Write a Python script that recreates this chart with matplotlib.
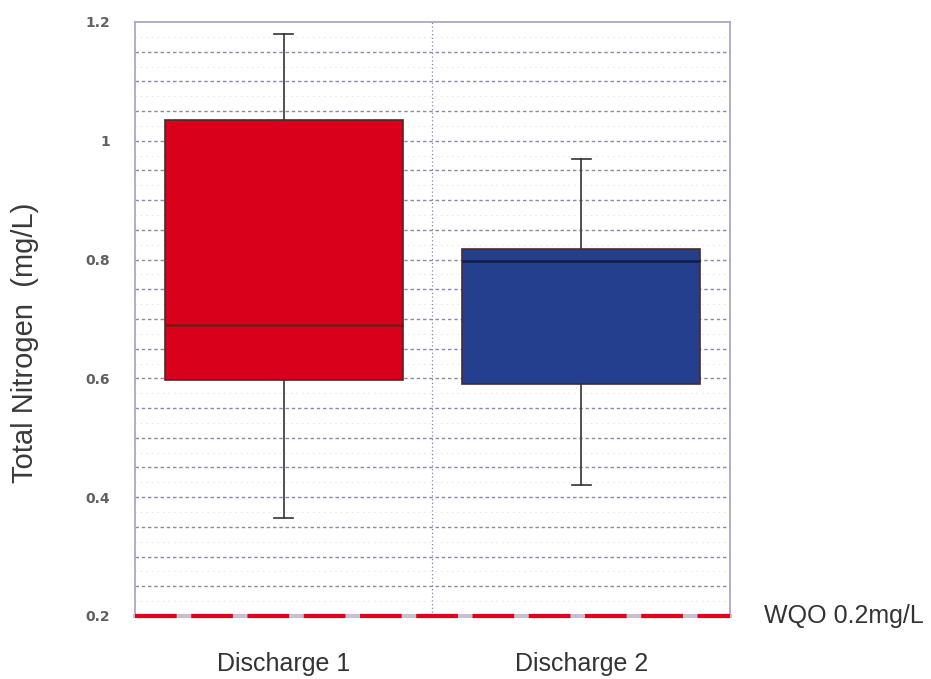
import matplotlib.pyplot as plt
import numpy as np

categories = ["Discharge 1", "Discharge 2"]
whisker_low = [0.365, 0.42]
q1 = [0.597, 0.59]
median = [0.69, 0.798]
q3 = [1.035, 0.818]
whisker_high = [1.18, 0.97]
box_colors = ["#d8001b", "#243f8e"]
median_colors = ["#7a1515", "#101c45"]
wqo = 0.2
y_ticks = [0.2, 0.4, 0.6, 0.8, 1.0, 1.2]
y_tick_labels = ["0.2", "0.4", "0.6", "0.8", "1", "1.2"]

label_font = {"family": ["Liberation Sans", "DejaVu Sans"]}

fig = plt.figure(figsize=(9.31, 6.79), dpi=100)
ax = fig.add_axes([0.145, 0.0928, 0.639, 0.8748])

stats = []
for i, name in enumerate(categories):
    stats.append({"label": name, "whislo": whisker_low[i], "q1": q1[i],
                  "med": median[i], "q3": q3[i], "whishi": whisker_high[i],
                  "fliers": []})

positions = np.arange(len(categories))
bp = ax.bxp(stats, positions=positions, widths=0.8, patch_artist=True,
            showfliers=False, capwidths=0.065, zorder=3)
for i, box in enumerate(bp["boxes"]):
    box.set_facecolor(box_colors[i])
    box.set_edgecolor("#4a2a2a")
    box.set_linewidth(1.2)
for i, med in enumerate(bp["medians"]):
    med.set_color(median_colors[i])
    med.set_linewidth(1.8)
for w in bp["whiskers"] + bp["caps"]:
    w.set_color("#333333")
    w.set_linewidth(1.2)

ax.set_xlim(-0.5, 1.5)
ax.set_ylim(0.2, 1.2)

# grid lines every 0.05
for y in np.arange(0.25, 1.2, 0.05):
    ax.axhline(y, color="#9088aa", linestyle=(0, (2.5, 2)), linewidth=1.0, zorder=1)
for y in np.arange(0.225, 1.2, 0.05):
    ax.axhline(y, color="#e6e0cc", linestyle=(0, (1, 4)), linewidth=0.8, zorder=1)
ax.axvline(0.5, color="#8a80a8", linestyle=(0, (1, 2)), linewidth=0.9, zorder=1)

# WQO line
ax.axhline(wqo, color="#c8c0d0", linewidth=3, zorder=4, clip_on=False)
ax.axhline(wqo, color="#e3001b", linewidth=3, linestyle=(0, (10, 3.5)), zorder=5, clip_on=False)
ax.text(1.615, wqo, "WQO 0.2mg/L", fontsize=18, color="#333333", va="center",
        ha="left", fontdict=label_font)

for s in ax.spines.values():
    s.set_color("#a8a0c0")
    s.set_linewidth(1.2)

ax.set_yticks(y_ticks)
ax.set_yticklabels(y_tick_labels, fontsize=10, color="#606060", fontweight="bold")
ax.tick_params(axis="y", length=0, pad=18)
ax.set_xticks(positions)
ax.set_xticklabels(categories, fontsize=18, color="#333333", fontdict=label_font)
ax.tick_params(axis="x", length=0, pad=26)
fig.text(0.027, 1 - 343 / 679, "Total Nitrogen  (mg/L)", rotation=90, fontsize=21,
         color="#3a3a3a", ha="center", va="center", fontdict=label_font)

fig.savefig("out.png", dpi=100)
